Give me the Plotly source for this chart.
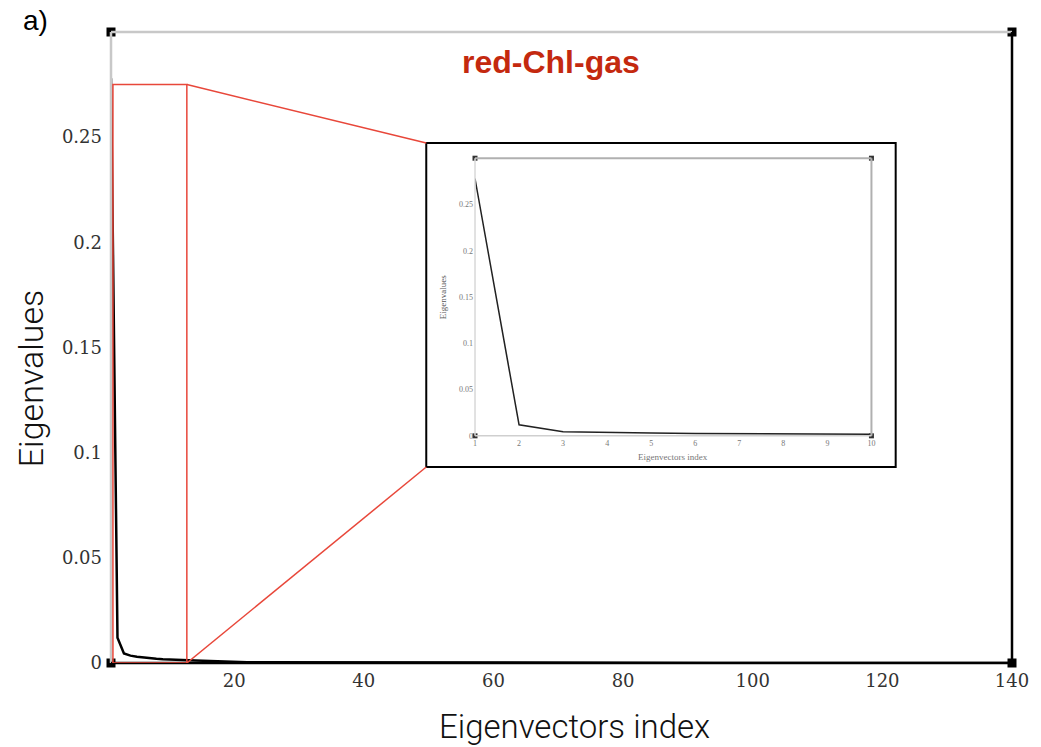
import plotly.graph_objects as go

# ---------------- data ----------------
index = list(range(1, 141))
eigenvalues = [
    0.278, 0.012, 0.0045, 0.0035, 0.0030, 0.0026, 0.0023, 0.0020, 0.0018, 0.0016,
    0.0015, 0.0014, 0.0013, 0.0012, 0.0011, 0.0010, 0.00060, 0.00050, 0.00045, 0.00042,
    0.00040, 0.00038, 0.00036, 0.00035, 0.00034, 0.00033, 0.00032, 0.00031, 0.00030, 0.00029,
    0.00028, 0.00027, 0.00026, 0.00025, 0.00025, 0.00024, 0.00023, 0.00023, 0.00022, 0.00021,
    0.00021, 0.00020, 0.00020, 0.00019, 0.00019, 0.00018, 0.00018, 0.00017, 0.00017, 0.00016,
    0.00016, 0.00015, 0.00015, 0.00015, 0.00014, 0.00014, 0.00013, 0.00013, 0.00013, 0.00012,
    0.00012, 0.00012, 0.00011, 0.00011, 0.00011, 0.00010, 0.00010, 0.00010, 0.00009, 0.00009,
    0.00009, 0.00009, 0.00008, 0.00008, 0.00008, 0.00008, 0.00007, 0.00007, 0.00007, 0.00007,
    0.00006, 0.00006, 0.00006, 0.00006, 0.00006, 0.00005, 0.00005, 0.00005, 0.00005, 0.00005,
    0.00004, 0.00004, 0.00004, 0.00004, 0.00004, 0.00004, 0.00003, 0.00003, 0.00003, 0.00003,
    0.00003, 0.00003, 0.00003, 0.00002, 0.00002, 0.00002, 0.00002, 0.00002, 0.00002, 0.00002,
    0.00002, 0.00002, 0.00001, 0.00001, 0.00001, 0.00001, 0.00001, 0.00001, 0.00001, 0.00001,
    0.00001, 0.00001, 0.00001, 0.00001, 0.00001, 0.00001, 0.00001, 0.00001, 0.00001, 0.00001,
    0.00001, 0.00001, 0.00001, 0.00001, 0.00001, 0.00001, 0.00001, 0.00001, 0.00001, 0.00001,
]
inset_n = 10
inset_index = index[:inset_n]
inset_values = eigenvalues[:inset_n]

x_range = [1, 140]
y_range = [0, 0.30]
inset_x_range = [1, 10]

main_xticks = [20, 40, 60, 80, 100, 120, 140]
main_yticks = [0, 0.05, 0.1, 0.15, 0.2, 0.25]
main_ytick_text = ["0", "0.05", "0.1", "0.15", "0.2", "0.25"]
inset_xticks = [1, 2, 3, 4, 5, 6, 7, 8, 9, 10]
inset_yticks = [0, 0.05, 0.1, 0.15, 0.2, 0.25]

zoom_x = [1.3, 12.7]
zoom_y = [0.0, 0.275]

title_text = "red-Chl-gas"

# ---------------- layout geometry ----------------
W, H = 1041, 747
ml, mr, mt, mb = 111, 24, 32, 84
inset_dom_x = [0.404, 0.844]
inset_dom_y = [0.360, 0.800]
inset_box = dict(x0=0.3499, x1=0.8709, y0=0.3106, y1=0.8241)

RED = "#e8473a"
TITLE_RED = "#c4290f"
GRAY = "#c8c8c8"
SERIF = "DejaVu Serif, Liberation Serif, serif"
SERIF_SMALL = "Liberation Serif, Times New Roman, serif"
SANS = "Roboto, Liberation Sans, Arial, sans-serif"

fig = go.Figure()

# main curve
fig.add_trace(go.Scatter(x=index, y=eigenvalues, mode="lines",
                         line=dict(color="black", width=2.5),
                         xaxis="x", yaxis="y", showlegend=False, hoverinfo="x+y"))
# main corner markers
fig.add_trace(go.Scatter(x=[x_range[0], x_range[1], x_range[0], x_range[1]],
                         y=[y_range[0], y_range[0], y_range[1], y_range[1]],
                         mode="markers", marker=dict(symbol="square", size=9, color="black"),
                         xaxis="x", yaxis="y", showlegend=False, cliponaxis=False,
                         hoverinfo="skip"))
# inset curve
fig.add_trace(go.Scatter(x=inset_index, y=inset_values, mode="lines",
                         line=dict(color="#222222", width=1.5),
                         xaxis="x2", yaxis="y2", showlegend=False))
# inset corner markers
fig.add_trace(go.Scatter(x=[inset_x_range[0], inset_x_range[1], inset_x_range[0], inset_x_range[1]],
                         y=[y_range[0], y_range[0], y_range[1], y_range[1]],
                         mode="markers", marker=dict(symbol="square", size=5, color="#333333"),
                         xaxis="x2", yaxis="y2", showlegend=False, cliponaxis=False,
                         hoverinfo="skip"))

# convert inset box (paper) to main data coords for connector lines
def px2x(p):
    return x_range[0] + p * (x_range[1] - x_range[0])

def py2y(p):
    return y_range[0] + p * (y_range[1] - y_range[0])

shapes = [
    # inset white box with black frame
    dict(type="rect", xref="paper", yref="paper", layer="below",
         x0=inset_box["x0"], x1=inset_box["x1"], y0=inset_box["y0"], y1=inset_box["y1"],
         line=dict(color="black", width=2), fillcolor="white"),
    # main frame: top (gray), left (gray), right (black), bottom (black)
    dict(type="line", xref="paper", yref="paper", x0=0, x1=1, y0=1, y1=1,
         line=dict(color=GRAY, width=2.5)),
    dict(type="line", xref="paper", yref="paper", x0=0, x1=0, y0=0, y1=1,
         line=dict(color=GRAY, width=2.5)),
    dict(type="line", xref="paper", yref="paper", x0=1, x1=1, y0=0, y1=1,
         line=dict(color="black", width=2.5)),
    dict(type="line", xref="paper", yref="paper", x0=0, x1=1, y0=0, y1=0,
         line=dict(color="black", width=2.5)),
    # inset frame
    dict(type="line", xref="x2 domain", yref="y2 domain", x0=0, x1=1, y0=1, y1=1,
         line=dict(color="#b0b0b0", width=2)),
    dict(type="line", xref="x2 domain", yref="y2 domain", x0=0, x1=0, y0=0, y1=1,
         line=dict(color="#d8d8d8", width=1.5)),
    dict(type="line", xref="x2 domain", yref="y2 domain", x0=1, x1=1, y0=0, y1=1,
         line=dict(color="#b0b0b0", width=2)),
    dict(type="line", xref="x2 domain", yref="y2 domain", x0=0, x1=1, y0=0, y1=0,
         line=dict(color="#cfcfcf", width=1.5)),
    # zoom rectangle
    dict(type="rect", xref="x", yref="y", x0=zoom_x[0], x1=zoom_x[1], y0=zoom_y[0], y1=zoom_y[1],
         line=dict(color=RED, width=1.5)),
    # connector lines
    dict(type="line", xref="x", yref="y", x0=zoom_x[1], y0=zoom_y[1],
         x1=px2x(inset_box["x0"]), y1=py2y(inset_box["y1"]), line=dict(color=RED, width=1.5)),
    dict(type="line", xref="x", yref="y", x0=zoom_x[1], y0=zoom_y[0],
         x1=px2x(inset_box["x0"]), y1=py2y(inset_box["y0"]), line=dict(color=RED, width=1.5)),
]

annotations = [
    dict(text=title_text, xref="paper", yref="paper", x=0.488, y=0.952, showarrow=False,
         xanchor="center", yanchor="middle",
         font=dict(family="Liberation Sans, Arial, sans-serif", size=32, color=TITLE_RED, weight="bold")),
    dict(text="a)", xref="paper", yref="paper", x=-0.0839, y=1.019, showarrow=False,
         xanchor="center", yanchor="middle",
         font=dict(family="Liberation Sans, Arial, sans-serif", size=28, color="black")),
    dict(text="Eigenvectors index", xref="paper", yref="paper", x=0.514, y=-0.101, showarrow=False,
         xanchor="center", yanchor="middle",
         font=dict(family=SANS, size=33, color="#111111", weight=300)),
    dict(text="Eigenvalues", xref="paper", yref="paper", x=-0.0894, y=0.452, showarrow=False,
         xanchor="center", yanchor="middle",
         textangle=-90, font=dict(family=SANS, size=34, color="#111111", weight=300)),
    # inset axis titles
    dict(text="Eigenvectors index", xref="x2 domain", yref="y2 domain", x=0.5, y=-0.075,
         xanchor="center", yanchor="middle",
         showarrow=False, font=dict(family=SERIF_SMALL, size=9, color="#777777")),
    dict(text="Eigenvalues", xref="x2 domain", yref="y2 domain", x=-0.08, y=0.5,
         xanchor="center", yanchor="middle",
         showarrow=False, textangle=-90, font=dict(family=SERIF_SMALL, size=9, color="#555555")),
]

fig.update_layout(
    width=W, height=H,
    margin=dict(l=ml, r=mr, t=mt, b=mb),
    paper_bgcolor="white", plot_bgcolor="white",
    showlegend=False,
    xaxis=dict(range=x_range, domain=[0, 1], tickvals=main_xticks, showgrid=False, zeroline=False,
               showline=False, ticks="", ticklabelstandoff=5,
               tickfont=dict(family=SERIF, size=18, color="#333333")),
    yaxis=dict(range=y_range, domain=[0, 1], tickvals=main_yticks, ticktext=main_ytick_text,
               showgrid=False, zeroline=False, showline=False, ticks="", ticklabelstandoff=8,
               tickfont=dict(family=SERIF, size=18, color="#333333")),
    xaxis2=dict(range=inset_x_range, domain=inset_dom_x, anchor="y2", tickvals=inset_xticks,
                showgrid=False, zeroline=False, showline=False, ticks="", ticklabelstandoff=1,
                tickfont=dict(family=SERIF_SMALL, size=8, color="#777777")),
    yaxis2=dict(range=y_range, domain=inset_dom_y, anchor="x2", tickvals=inset_yticks,
                showgrid=False, zeroline=False, showline=False, ticks="", ticklabelstandoff=1,
                tickfont=dict(family=SERIF_SMALL, size=8, color="#777777")),
    shapes=shapes,
    annotations=annotations,
)

fig.write_html("out.html")
